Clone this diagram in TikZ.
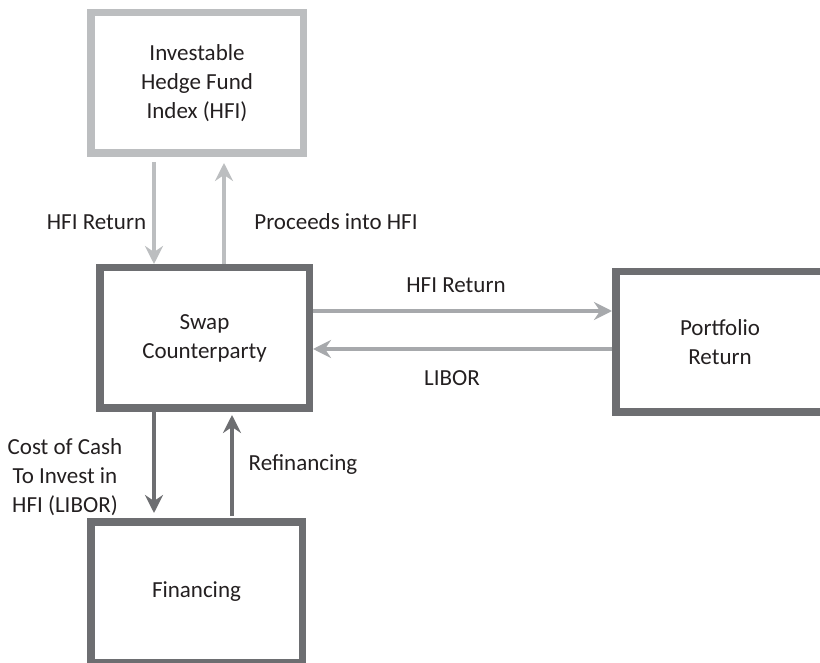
\documentclass[tikz,border=0pt]{standalone}
\usepackage{fontspec}
\setmainfont{Carlito}
\usetikzlibrary{arrows.meta}
\definecolor{paleG}{HTML}{BCBEC0}
\definecolor{midG}{HTML}{A7A9AC}
\definecolor{darkG}{HTML}{6D6E71}
\definecolor{inkT}{HTML}{231F20}

\begin{document}
\begin{tikzpicture}[x=0.5pt, y=-0.5pt, font=\fontsize{11.5}{14.5}\selectfont, text=inkT,
  >={Stealth[length=9pt, width=9pt, inset=3pt]},
  b/.style={rectangle, draw=darkG, line width=3.75pt, align=center,
            minimum height=70.25pt, inner sep=0pt},
  p/.style={->, line width=2pt, draw=paleG},
  m/.style={->, line width=2pt, draw=midG},
  d/.style={->, line width=2pt, draw=darkG}]
  \useasboundingbox (0,0) rectangle (820,663);
  \node[b, draw=paleG, minimum width=106.25pt] (hfi) at (197,83) {Investable\\ Hedge Fund\\ Index (HFI)};
  \node[b, minimum width=104.75pt] (swap) at (204.5,338) {Swap\\ Counterparty};
  \node[b, minimum width=104.25pt] (port) at (720,342) {Portfolio\\ Return};
  \node[b, minimum width=105.75pt] (fin) at (196.5,592) {Financing};
  % arrows
  \draw[p] ([xshift=-21.5pt, yshift=-2.5pt]hfi.south) -- ([xshift=-25.25pt]swap.north);
  \draw[p] ([xshift=9.75pt]swap.north) -- ([xshift=13.5pt, yshift=-3pt]hfi.south);
  \draw[m] ([yshift=13.5pt]swap.east) -- ([yshift=15.5pt]port.west);
  \draw[m] ([yshift=-3.5pt]port.west) -- ([yshift=-5.5pt]swap.east);
  \draw[d] ([xshift=-25.25pt]swap.south) -- ([xshift=-21.25pt, yshift=2.5pt]fin.north);
  \draw[d] ([xshift=17.75pt, yshift=1pt]fin.north) -- ([xshift=13.75pt, yshift=-1.5pt]swap.south);
  % labels
  \node (lhr) at (96.5,222) {HFI Return};
  \node (lpr) at (336,222) {Proceeds into HFI};
  \node (lsr) at (456,285) {HFI Return};
  \node (llb) at (452,378) {LIBOR};
  \node[align=center] (lcc) at (65,477) {Cost of Cash\\ To Invest in\\ HFI (LIBOR)};
  \node (lrf) at (303,465) {Refinancing};
\end{tikzpicture}
\end{document}
